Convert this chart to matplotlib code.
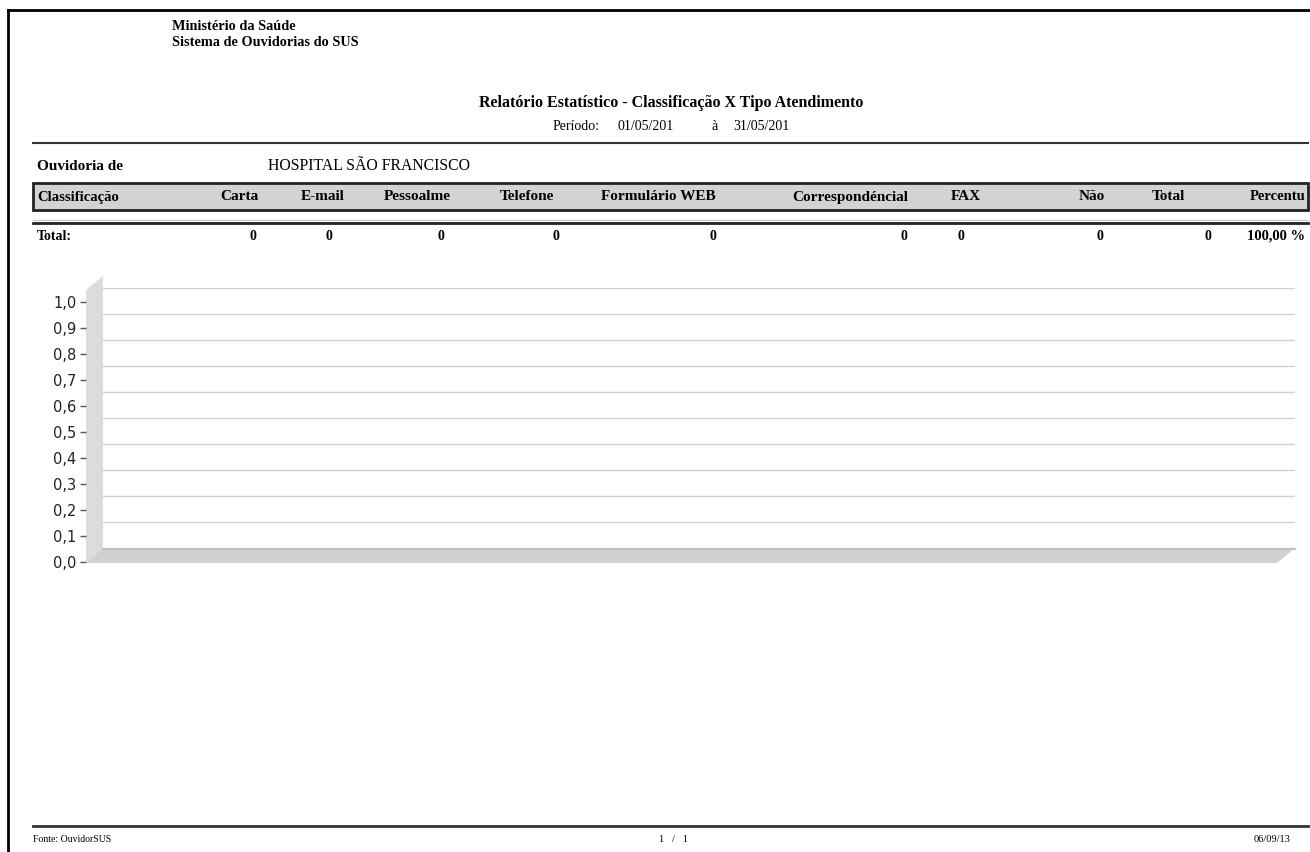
import numpy as np
import matplotlib
matplotlib.use("Agg")
import matplotlib.pyplot as plt
from matplotlib.patches import Polygon, Rectangle
from matplotlib.ticker import FuncFormatter

# === report data ===
org_lines = ["Ministério da Saúde", "Sistema de Ouvidorias do SUS"]
report_title = "Relatório Estatístico - Classificação X Tipo Atendimento"
period_start = "01/05/201"
period_end = "31/05/201"
ouvidoria = "HOSPITAL SÃO FRANCISCO"

columns = ["Carta", "E-mail", "Pessoalme", "Telefone", "Formulário WEB",
           "Correspondéncial", "FAX", "Não", "Total"]
totals = [0, 0, 0, 0, 0, 0, 0, 0, 0]
percent_total = "100,00 %"

y_ticks = [0.0, 0.1, 0.2, 0.3, 0.4, 0.5, 0.6, 0.7, 0.8, 0.9, 1.0]

footer_source = "Fonte: OuvidorSUS"
footer_page = "1   /   1"
footer_date = "06/09/13"

# layout (pixels on a 1310x852 page)
W, H = 1310, 852
col_x = [239, 323, 417, 527, 658, 850, 966, 1092, 1168]
val_x = [253, 329, 441, 556, 713, 904, 961, 1100, 1208]

SERIF = "Liberation Serif"

fig = plt.figure(figsize=(W / 100, H / 100), dpi=100)
page = fig.add_axes([0, 0, 1, 1], zorder=0)
page.set_xlim(0, W)
page.set_ylim(H, 0)
page.axis("off")

# page frame
page.plot([8, 8], [10, H], color="black", lw=2)
page.plot([8, W], [10, 10], color="black", lw=2)

# header
for i, line in enumerate(org_lines):
    page.text(172, 26 + i * 17, line, family=SERIF, weight="bold", fontsize=10.3,
              va="center", ha="left")
page.text(671, 103, report_title, family=SERIF, weight="bold", fontsize=11.5,
          ha="center", va="center")
page.text(553, 127, "Período:", family=SERIF, fontsize=10, ha="left", va="center")
page.text(618, 127, period_start, family=SERIF, fontsize=10, ha="left", va="center")
page.text(712, 127, "à", family=SERIF, fontsize=10, ha="left", va="center")
page.text(733, 127, period_end, family=SERIF, fontsize=10, ha="left", va="center")
page.plot([33, 1308], [143, 143], color="#333333", lw=1.5)

# ouvidoria row
page.text(37, 167, "Ouvidoria de", family=SERIF, weight="bold", fontsize=11,
          ha="left", va="center")
page.text(268, 166, ouvidoria, family=SERIF, fontsize=11.3, ha="left", va="center")

# table header band
page.add_patch(Rectangle((33, 183), 1275, 27, facecolor="#d3d3d3",
                         edgecolor="#222222", lw=2))
page.text(37, 197, "Classificação", family=SERIF, weight="bold", fontsize=10.5,
          ha="left", va="center")
for name, x in zip(columns, col_x):
    page.text(x, 197, name, family=SERIF, weight="bold", fontsize=11,
              ha="center", va="center")
page.text(1305, 197, "Percentu", family=SERIF, weight="bold", fontsize=10.5,
          ha="right", va="center")
page.plot([33, 1308], [220, 220], color="#cccccc", lw=1)
page.plot([33, 1308], [223, 223], color="#222222", lw=2)

# total row
page.text(37, 236, "Total:", family=SERIF, weight="bold", fontsize=10,
          ha="left", va="center")
for v, x in zip(totals, val_x):
    page.text(x, 236, str(v), family=SERIF, weight="bold", fontsize=10,
              ha="center", va="center")
page.text(1305, 236, percent_total, family=SERIF, weight="bold", fontsize=10.5,
          ha="right", va="center")

# 3D chart walls
page.add_patch(Polygon([(86, 290), (103, 276), (103, 548), (86, 563)],
                       closed=True, facecolor="#dcdcdc", edgecolor="none"))
page.add_patch(Polygon([(86, 563), (103, 548), (1295, 548), (1277, 563)],
                       closed=True, facecolor="#d0d0d0", edgecolor="none"))
page.plot([103, 1295], [549, 549], color="#c2c2c2", lw=1.5)

# back wall with gridlines
back = fig.add_axes([103 / W, 1 - 548 / H, (1295 - 103) / W, 260 / H], zorder=1)
back.set_facecolor("none")
back.bar(np.arange(len(columns)), totals, color="#4f81bd")
back.set_xlim(-0.5, len(columns) - 0.5)
back.set_ylim(0, 1.0)
back.set_yticks(y_ticks)
back.grid(axis="y", color="#d0d0d0", lw=1)
back.tick_params(left=False, bottom=False, labelleft=False, labelbottom=False)
for s in back.spines.values():
    s.set_visible(False)

# front axis for tick labels
front = fig.add_axes([86 / W, 1 - 562 / H, (1277 - 86) / W, 260 / H], zorder=1)
front.set_facecolor("none")
front.set_ylim(0, 1.0)
front.set_yticks(y_ticks)
front.yaxis.set_major_formatter(FuncFormatter(lambda v, p: f"{v:.1f}".replace(".", ",")))
front.tick_params(axis="y", length=4, width=1, color="#555555", pad=3,
                  labelsize=10.5, labelcolor="#222222")
front.tick_params(bottom=False, labelbottom=False)
for s in front.spines.values():
    s.set_visible(False)

# footer
page.plot([33, 1308], [826, 826], color="#333333", lw=2)
page.text(33, 840, footer_source, family=SERIF, fontsize=7, ha="left", va="center")
page.text(673, 840, footer_page, family=SERIF, fontsize=7.5, ha="center", va="center")
page.text(1290, 840, footer_date, family=SERIF, fontsize=7.5, ha="right", va="center")

fig.savefig("out.png", dpi=100)
